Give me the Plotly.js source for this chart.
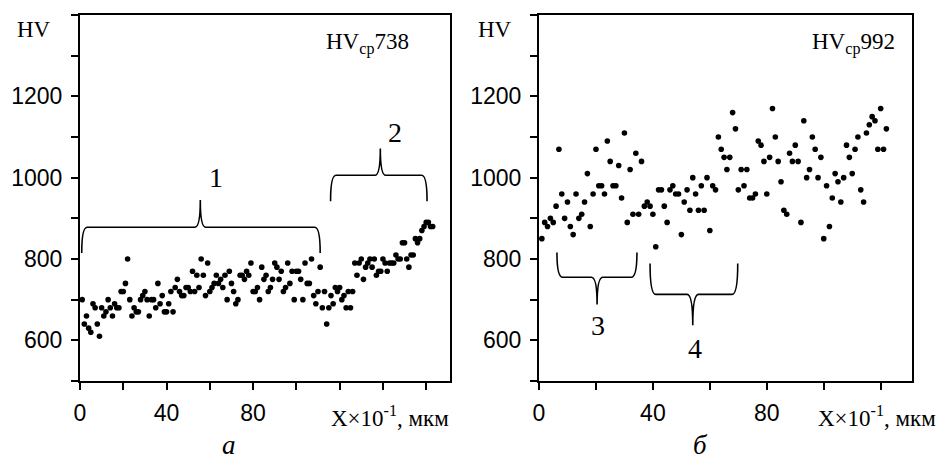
<!DOCTYPE html>
<html>
<head>
<meta charset="utf-8">
<script src="https://cdn.plot.ly/plotly-3.0.1.min.js"></script>
<style>html,body{margin:0;padding:0;background:#fff;}#chart{width:939px;height:461px;}</style>
</head>
<body>
<div id="chart"></div>
<script>
// ---- data ----
const leftX = [1,2,3,4,5,6,7,8,9,10,11,12,13,14,15,16,17,18,19,20,
  21,22,23,24,25,26,27,28,29,30,31,32,33,34,35,36,37,38,39,40,
  41,42,43,44,45,46,47,48,49,50,51,52,53,54,55,56,57,58,59,60,
  61,62,63,64,65,66,67,68,69,70,71,72,73,74,75,76,77,78,79,80,
  81,82,83,84,85,86,87,88,89,90,91,92,93,94,95,96,97,98,99,100,
  101,102,103,104,105,106,107,108,109,110,111,112,113,114,115,116,117,118,119,120,
  121,122,123,124,125,126,127,128,129,130,131,132,133,134,135,136,137,138,139,140,
  141,142,143,144,145,146,147,148,149,150,151,152,153,154,155,156,157,158,159,160,
  161,162,163];
const leftHV = [700,640,660,630,620,690,680,640,610,680,
  660,670,700,680,660,690,680,680,720,720,
  740,800,700,660,680,670,670,700,710,720,
  700,660,700,700,680,740,690,710,670,670,
  690,720,670,730,750,720,710,710,730,730,
  720,770,720,760,730,800,760,710,790,720,
  730,740,760,740,750,730,760,700,770,740,
  720,690,700,760,760,750,770,760,790,720,
  720,730,700,780,750,760,720,730,750,790,
  780,750,770,720,730,790,740,770,700,770,
  770,750,700,790,740,740,800,710,690,720,
  780,680,720,640,680,710,690,730,720,730,
  700,710,680,720,680,720,790,760,790,800,
  750,780,790,800,780,800,760,770,770,800,
  790,770,790,790,790,810,800,800,840,840,
  800,780,810,810,850,840,850,870,880,890,
  890,880,880];

const rightX = [1,2,3,4,5,6,7,8,9,10,11,12,13,14,15,16,17,18,19,20,
  21,22,23,24,25,26,27,28,29,30,31,32,33,34,35,36,37,38,39,40,
  41,42,43,44,45,46,47,48,49,50,51,52,53,54,55,56,57,58,59,60,
  61,62,63,64,65,66,67,68,69,70,71,72,73,74,75,76,77,78,79,80,
  81,82,83,84,85,86,87,88,89,90,91,92,93,94,95,96,97,98,99,100,
  101,102,103,104,105,106,107,108,109,110,111,112,113,114,115,116,117,118,119,120,
  121,122];
const rightHV = [850,890,880,900,890,930,1070,960,900,940,
  880,860,960,900,910,940,1010,880,960,1070,
  980,980,960,1090,1040,980,980,1030,950,1110,
  890,1020,910,1060,910,1040,930,940,930,910,
  830,970,970,930,890,970,980,960,960,860,
  940,970,920,1000,960,920,980,920,1000,870,
  980,970,1100,1070,1050,1020,1050,1160,1120,970,
  1020,980,1020,950,950,960,1090,1080,1040,960,
  1050,1170,1100,1040,990,920,910,1060,1040,1080,
  1040,890,1140,1000,1020,1100,1070,1000,1050,850,
  980,880,950,1010,990,940,1000,1080,1050,1010,
  1070,1100,970,940,1110,1130,1150,1140,1070,1170,
  1070,1120];

const xTickVals = [0, 40, 80];
const xTickText = ['0', '40', '80'];
const yTickVals = [600, 800, 1000, 1200];
const yTickText = ['600', '800', '1000', '1200'];

const meanLeft = 'HV<sub>ср</sub>738';
const meanRight = 'HV<sub>ср</sub>992';
const axisUnit = 'X×10<sup>-1</sup>, мкм';
const panelLabels = ['а', 'б'];
const zoneLabels = ['1', '2', '3', '4'];

// ---- layout ----
const W = 939, H = 461;
const px = v => v / W;
const py = v => 1 - v / H;

const tickFont = {family: 'Liberation Sans, Arial, sans-serif', size: 23, color: '#000'};
const serif = 'Liberation Serif, Times New Roman, serif';

function xAxis(dom, range, anchor) {
  return {domain: dom, range: range, anchor: anchor, showline: true, linewidth: 2, linecolor: '#000',
    mirror: true, ticks: 'outside', ticklen: 7, tickwidth: 2, tickcolor: '#000',
    tickvals: xTickVals, ticktext: xTickText, tickfont: tickFont, ticklabelstandoff: 3,
    minor: {dtick: 20, tick0: 0, ticks: 'outside', ticklen: 7, tickwidth: 2, tickcolor: '#000', showgrid: false},
    showgrid: false, zeroline: false, fixedrange: true};
}
function yAxis(dom, anchor) {
  return {domain: dom, range: [500, 1400], anchor: anchor, showline: true, linewidth: 2, linecolor: '#000',
    mirror: true, ticks: 'outside', ticklen: 7, tickwidth: 2, tickcolor: '#000',
    tickvals: yTickVals, ticktext: yTickText, tickfont: tickFont, ticklabelstandoff: 4,
    minor: {dtick: 100, tick0: 500, ticks: 'outside', ticklen: 7, tickwidth: 2, tickcolor: '#000', showgrid: false},
    showgrid: false, zeroline: false, fixedrange: true};
}

const yDom = [(H - 381) / H, (H - 15) / H];

const traces = [
  {x: leftX, y: leftHV, xaxis: 'x', yaxis: 'y', type: 'scatter', mode: 'markers',
   marker: {color: '#000', size: 5.6}, hoverinfo: 'skip'},
  {x: rightX, y: rightHV, xaxis: 'x2', yaxis: 'y2', type: 'scatter', mode: 'markers',
   marker: {color: '#000', size: 5.6}, hoverinfo: 'skip'}
];

// curly brace path in data coordinates
function brace(x0, x1, xm, yEnd, yH, yTip, c) {
  return `M ${x0},${yEnd} Q ${x0},${yH} ${x0 + c},${yH} L ${xm - c},${yH} Q ${xm},${yH} ${xm},${yTip} ` +
         `Q ${xm},${yH} ${xm + c},${yH} L ${x1 - c},${yH} Q ${x1},${yH} ${x1},${yEnd}`;
}
const braceLine = {color: '#000', width: 1.6};
const shapes = [
  {type: 'path', xref: 'x', yref: 'y', path: brace(0.8, 111, 55.6, 815, 878, 945, 2.5), line: braceLine},
  {type: 'path', xref: 'x', yref: 'y', path: brace(115.8, 160.4, 138.8, 942, 1006, 1072, 2.5), line: braceLine},
  {type: 'path', xref: 'x2', yref: 'y2', path: brace(6.3, 34.4, 20.4, 816, 755, 688, 2), line: braceLine},
  {type: 'path', xref: 'x2', yref: 'y2', path: brace(39, 69.8, 54, 789, 713, 637, 2), line: braceLine}
];

const sFont = s => ({family: serif, size: s, color: '#000'});
const annotations = [
  {xref: 'paper', yref: 'paper', x: px(33.5), y: py(30), text: 'HV', showarrow: false, font: sFont(23), xanchor: 'center', yanchor: 'middle'},
  {xref: 'paper', yref: 'paper', x: px(495), y: py(30), text: 'HV', showarrow: false, font: sFont(23), xanchor: 'center', yanchor: 'middle'},
  {xref: 'paper', yref: 'paper', x: px(324), y: py(44), text: meanLeft, showarrow: false, font: sFont(23), xanchor: 'left', yanchor: 'middle'},
  {xref: 'paper', yref: 'paper', x: px(810), y: py(44), text: meanRight, showarrow: false, font: sFont(23), xanchor: 'left', yanchor: 'middle'},
  {xref: 'paper', yref: 'paper', x: px(451), y: py(416), text: axisUnit, showarrow: false, font: sFont(23), xanchor: 'right', yanchor: 'middle'},
  {xref: 'paper', yref: 'paper', x: px(938), y: py(416), text: axisUnit, showarrow: false, font: sFont(23), xanchor: 'right', yanchor: 'middle'},
  {xref: 'paper', yref: 'paper', x: px(228.5), y: 0, text: '<i>' + panelLabels[0] + '</i>', showarrow: false, font: sFont(27), xanchor: 'center', yanchor: 'bottom', borderpad: 0},
  {xref: 'paper', yref: 'paper', x: px(700), y: 0, text: '<i>' + panelLabels[1] + '</i>', showarrow: false, font: sFont(27), xanchor: 'center', yanchor: 'bottom', borderpad: 0},
  {xref: 'x', yref: 'y', x: 63, y: 1000, text: zoneLabels[0], showarrow: false, font: sFont(28), xanchor: 'center', yanchor: 'middle'},
  {xref: 'x', yref: 'y', x: 145.7, y: 1112, text: zoneLabels[1], showarrow: false, font: sFont(28), xanchor: 'center', yanchor: 'middle'},
  {xref: 'x2', yref: 'y2', x: 20.7, y: 637, text: zoneLabels[2], showarrow: false, font: sFont(28), xanchor: 'center', yanchor: 'middle'},
  {xref: 'x2', yref: 'y2', x: 54.7, y: 580, text: zoneLabels[3], showarrow: false, font: sFont(28), xanchor: 'center', yanchor: 'middle'}
];

const layout = {
  width: W, height: H,
  margin: {l: 0, r: 0, t: 0, b: 0},
  paper_bgcolor: '#fff', plot_bgcolor: '#fff',
  showlegend: false,
  xaxis: xAxis([80 / W, 450 / W], [0, 171], 'y'),
  yaxis: yAxis(yDom, 'x'),
  xaxis2: xAxis([539 / W, 912 / W], [0, 131], 'y2'),
  yaxis2: yAxis(yDom, 'x2'),
  shapes: shapes,
  annotations: annotations
};

Plotly.newPlot('chart', traces, layout, {displayModeBar: false, staticPlot: true});
</script>
</body>
</html>
